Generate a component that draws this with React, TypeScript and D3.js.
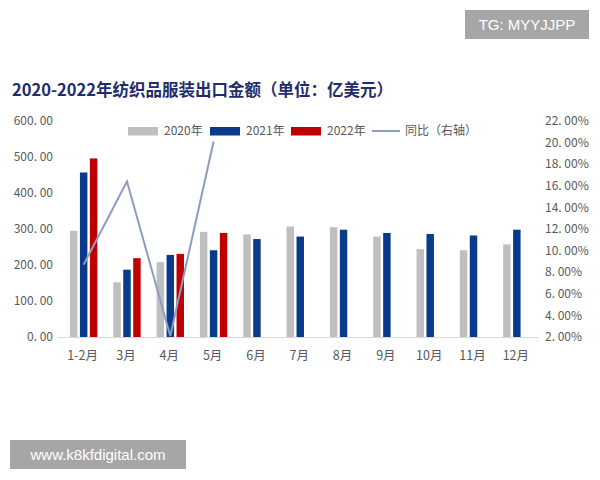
import { useEffect, useRef } from 'react'
import * as d3 from 'd3'

const months = ['1-2月', '3月', '4月', '5月', '6月', '7月', '8月', '9月', '10月', '11月', '12月']
const series = ['2020年', '2021年', '2022年']
const v2020 = [295, 152, 208, 292, 285, 307, 305, 279, 244, 241, 257]
const v2021 = [457, 187, 228, 241, 272, 279, 298, 289, 286, 282, 298]
const v2022 = [496, 219, 231, 289]
const yoy = [8.7, 16.4, 2.1, 20.1]
const leftTicks = [0, 100, 200, 300, 400, 500, 600]
const rightTicks = [2, 4, 6, 8, 10, 12, 14, 16, 18, 20, 22]

const colors = ['#BFBFBF', '#0A3A8A', '#C00000']
const lineColor = '#8F9CC2'
const textColor = '#595959'
const font = '"Noto Sans CJK SC", "Noto Sans", sans-serif'

export default function App() {
  const svgRef = useRef<SVGSVGElement>(null)

  useEffect(() => {
    const el = svgRef.current
    if (!el) return
    const svg = d3.select(el)
    svg.selectAll('*').remove()

    const left = 62, right = 538.5, top = 121, bottom = 337

    const x = d3.scaleBand<string>().domain(months).range([left, right])
    const x1 = d3.scaleBand<string>().domain(series).range([0, x.bandwidth()])
      .paddingInner(0.25).paddingOuter(0.8)
    const y = d3.scaleLinear().domain([0, 600]).range([bottom, top])
    const y2 = d3.scaleLinear().domain([2, 22]).range([bottom, top])

    svg.append('rect').attr('width', 600).attr('height', 480).attr('fill', '#fff')

    // title
    svg.append('text')
      .attr('x', 12).attr('y', 96)
      .attr('fill', '#1F2D6B')
      .attr('font-family', font)
      .attr('font-weight', 'bold')
      .attr('font-size', '16.5px')
      .text('2020-2022年纺织品服装出口金额（单位：亿美元）')

    // baseline
    svg.append('line')
      .attr('x1', 58).attr('x2', right)
      .attr('y1', bottom + 0.5).attr('y2', bottom + 0.5)
      .attr('stroke', '#D9D9D9').attr('stroke-width', 1)

    // left axis labels
    svg.append('g').selectAll('text').data(leftTicks).join('text')
      .attr('x', 53).attr('y', d => y(d))
      .attr('dy', '0.35em')
      .attr('text-anchor', 'end')
      .attr('fill', textColor)
      .attr('font-family', font)
      .attr('font-size', '12px')
      .text(d => d3.format('.2f')(d).replace('.', '. '))

    // right axis labels
    svg.append('g').selectAll('text').data(rightTicks).join('text')
      .attr('x', 545).attr('y', d => y2(d))
      .attr('dy', '0.35em')
      .attr('fill', textColor)
      .attr('font-family', font)
      .attr('font-size', '12px')
      .text(d => d3.format('.2f')(d).replace('.', '. ') + '%')

    // category labels
    svg.append('g').selectAll('text').data(months).join('text')
      .attr('x', d => x(d)! + x.bandwidth() / 2 - 1)
      .attr('y', 356)
      .attr('dy', '0.35em')
      .attr('text-anchor', 'middle')
      .attr('fill', textColor)
      .attr('font-family', font)
      .attr('font-size', '12.5px')
      .text(d => d)

    // bars
    const all = [v2020, v2021, v2022]
    all.forEach((vals, si) => {
      svg.append('g').selectAll('rect').data(vals).join('rect')
        .attr('x', (_, i) => x(months[i])! + x1(series[si])!)
        .attr('width', x1.bandwidth())
        .attr('y', d => y(d))
        .attr('height', d => bottom - y(d))
        .attr('fill', colors[si])
    })

    // yoy line
    const line = d3.line<number>()
      .x((_, i) => x(months[i])! + x.bandwidth() / 2)
      .y(d => y2(d))
    svg.append('path')
      .datum(yoy)
      .attr('d', line)
      .attr('fill', 'none')
      .attr('stroke', lineColor)
      .attr('stroke-width', 2)

    // legend
    const lg = svg.append('g').attr('font-family', font).attr('font-size', '12px').attr('fill', textColor)
    const legendX = [128, 210, 291]
    series.forEach((s, i) => {
      lg.append('rect').attr('x', legendX[i]).attr('y', 127).attr('width', 30).attr('height', 8.5).attr('fill', colors[i])
      lg.append('text').attr('x', legendX[i] + 36).attr('y', 131).attr('dy', '0.35em').text(s)
    })
    lg.append('line').attr('x1', 372).attr('x2', 400).attr('y1', 131).attr('y2', 131)
      .attr('stroke', lineColor).attr('stroke-width', 2)
    lg.append('text').attr('x', 405).attr('y', 131).attr('dy', '0.35em').text('同比（右轴）')

    // watermarks
    const wm = [
      { x: 465, y: 10, w: 124, h: 29, t: 'TG: MYYJJPP' },
      { x: 10, y: 440, w: 176, h: 29, t: 'www.k8kfdigital.com' },
    ]
    wm.forEach(m => {
      svg.append('rect').attr('x', m.x).attr('y', m.y).attr('width', m.w).attr('height', m.h).attr('fill', '#A6A6A6')
      svg.append('text')
        .attr('x', m.x + m.w / 2).attr('y', m.y + m.h / 2)
        .attr('dy', '0.35em')
        .attr('text-anchor', 'middle')
        .attr('fill', '#fff')
        .attr('font-family', '"Liberation Sans", Arial, sans-serif')
        .attr('font-size', '15px')
        .text(m.t)
    })
  }, [])

  return (
    <svg
      ref={svgRef}
      width={600}
      height={480}
      style={{ position: 'absolute', left: 0, top: 0, display: 'block' }}
    />
  )
}
